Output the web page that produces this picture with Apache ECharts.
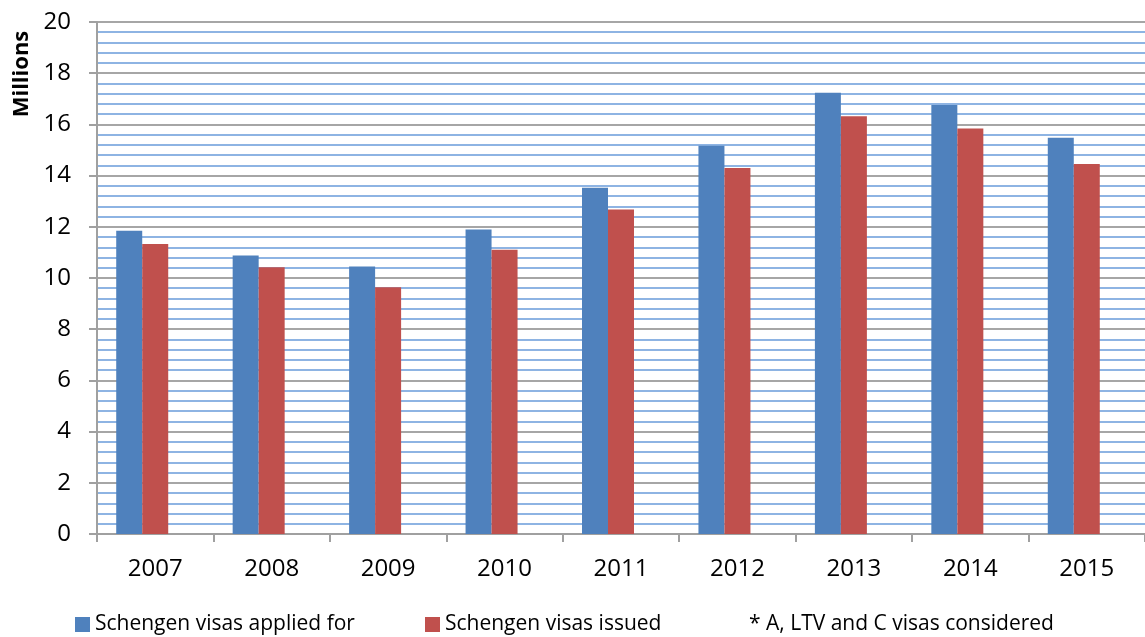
<!DOCTYPE html>
<html>
<head>
<meta charset="utf-8">
<script src="https://cdn.jsdelivr.net/npm/echarts@6/dist/echarts.min.js"></script>
<style>html,body{margin:0;padding:0;background:#fff}#c{width:1145px;height:637px}</style>
</head>
<body>
<div id="c"></div>
<script>
const categories = ['2007','2008','2009','2010','2011','2012','2013','2014','2015'];
const appliedFor = [11.85, 10.88, 10.45, 11.89, 13.53, 15.17, 17.24, 16.76, 15.48];
const issued = [11.33, 10.42, 9.64, 11.1, 12.68, 14.3, 16.32, 15.84, 14.45];
const noteSeries = [null, null, null, null, null, null, null, null, null];
const seriesNames = ['Schengen visas applied for', 'Schengen visas issued', '* A, LTV and C visas considered'];

const FONT = 'Open Sans';
const chart = echarts.init(document.getElementById('c'), null, {renderer: 'canvas'});
const legendBase = {
  top: 610, padding: 0, itemWidth: 15, itemHeight: 15, itemGap: 0, icon: 'rect',
  textStyle: {fontFamily: FONT, fontSize: 21, color: '#000', lineHeight: 29},
  selectedMode: false
};
chart.setOption({
  animation: false,
  textStyle: {fontFamily: FONT},
  grid: {left: 97, right: 0, top: 22, bottom: 103, containLabel: false},
  legend: [
    Object.assign({}, legendBase, {left: 75, data: [seriesNames[0]]}),
    Object.assign({}, legendBase, {left: 425, data: [seriesNames[1]]}),
    Object.assign({}, legendBase, {left: 729, data: [seriesNames[2]]})
  ],
  graphic: [{
    type: 'text',
    rotation: Math.PI / 2,
    style: {text: 'Millions', font: 'bold 22px "Open Sans"', fill: '#000', textAlign: 'center', textVerticalAlign: 'middle'},
    x: 22, y: 74
  }],
  xAxis: {
    type: 'category', data: categories,
    axisLine: {lineStyle: {color: '#a0a0a0', width: 2}},
    axisTick: {show: true, interval: 0, length: 8, lineStyle: {color: '#a0a0a0', width: 2}},
    axisLabel: {fontFamily: FONT, fontSize: 24, color: '#000', margin: 23, interval: 0},
    splitLine: {show: false}
  },
  yAxis: {
    type: 'value', min: 0, max: 20, interval: 2,
    axisLine: {show: true, lineStyle: {color: '#a0a0a0', width: 2}},
    axisTick: {show: true, length: 8, lineStyle: {color: '#a0a0a0', width: 2}},
    axisLabel: {fontFamily: FONT, fontSize: 24, color: '#000', margin: 26},
    splitLine: {show: true, lineStyle: {color: '#a6a6a6', width: 2}},
    minorTick: {show: false, splitNumber: 5},
    minorSplitLine: {show: true, lineStyle: {color: '#8eb4e3', width: 2}}
  },
  series: [
    {name: seriesNames[0], type: 'bar', data: appliedFor, barWidth: 26, barGap: '0%', itemStyle: {color: '#4f81bd'}, z: 3},
    {name: seriesNames[1], type: 'bar', data: issued, barWidth: 26, barGap: '0%', itemStyle: {color: '#c0504d'}, z: 3},
    {name: seriesNames[2], type: 'bar', data: noteSeries, barWidth: 26, barGap: '0%', itemStyle: {color: 'rgba(0,0,0,0)'}, z: 3}
  ]
});
</script>
</body>
</html>
